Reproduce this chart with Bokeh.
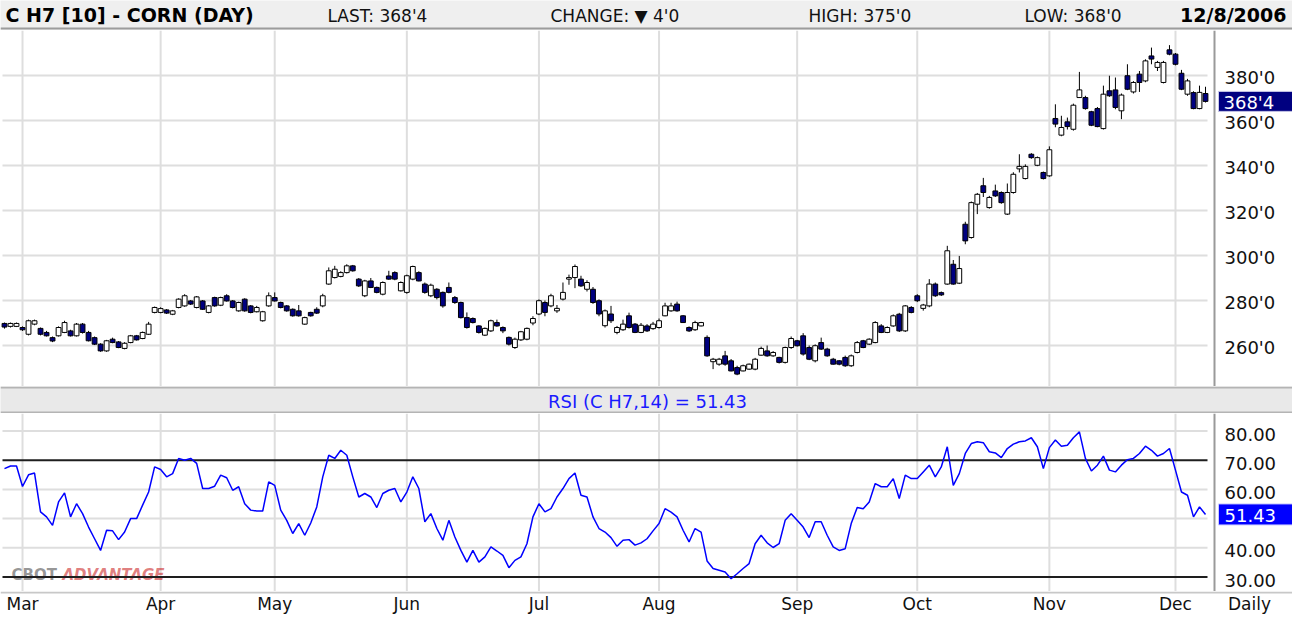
import pandas as pd
from bokeh.plotting import figure
from bokeh.layouts import column
from bokeh.models import Range1d
from bokeh.core.properties import value
from bokeh.embed import file_html
from bokeh.resources import INLINE

# ---------------------------------------------------------------- data
symbol_title = "C H7 [10] - CORN (DAY)"
rsi_name = "RSI (C H7,14)"
holidays = ["2006-04-14", "2006-05-29", "2006-07-04", "2006-09-04", "2006-11-23"]
trade_dates = pd.bdate_range("2006-02-24", "2006-12-08", freq="C", holidays=holidays)

opens = [
    269.8, 268.5, 268.5, 268.0, 265.0, 269.5, 267.6, 265.8, 263.5, 264.3,
    265.8, 266.5, 264.3, 269.5, 265.8, 263.5, 260.6, 257.6, 262.8, 261.6,
    258.7, 261.3, 264.3, 263.1, 265.0, 274.7, 274.7, 275.8, 273.9, 276.9,
    277.6, 279.8, 276.9, 279.8, 274.7, 281.3, 277.9, 282.1, 279.8, 275.4,
    280.6, 277.6, 275.0, 271.0, 277.6, 281.3, 279.1, 277.6, 276.1, 275.4,
    269.5, 274.7, 276.1, 277.6, 287.3, 290.2, 290.7, 292.4, 295.4, 289.5,
    282.1, 288.7, 285.8, 282.8, 290.9, 292.4, 284.3, 283.6, 289.5, 292.4,
    287.3, 282.1, 285.0, 283.6, 285.8, 281.3, 279.1, 272.4, 272.0, 268.7,
    264.6, 266.5, 270.2, 268.0, 263.6, 259.1, 262.5, 262.8, 270.0, 274.0,
    279.1, 277.6, 275.4, 280.6, 289.5, 290.2, 289.5, 285.0, 285.0, 279.9,
    268.8, 274.0, 265.8, 267.0, 273.2, 269.5, 265.8, 268.7, 267.5, 268.0,
    273.2, 275.4, 278.4, 273.2, 268.0, 267.0, 268.7, 263.6, 252.8, 251.7,
    255.4, 253.2, 250.2, 248.7, 249.5, 249.5, 255.7, 257.6, 255.4, 254.7,
    252.5, 259.1, 262.1, 264.3, 259.1, 253.2, 261.3, 258.4, 253.9, 253.2,
    254.7, 251.0, 256.9, 262.1, 260.6, 261.3, 268.7, 265.8, 268.7, 273.9,
    266.5, 276.9, 282.1, 276.5, 277.6, 287.3, 283.5, 287.3, 296.1, 287.7,
    313.9, 308.0, 322.8, 331.0, 321.3, 328.7, 328.0, 318.4, 328.0, 338.5,
    334.2, 345.0, 340.1, 336.9, 335.4, 360.9, 353.5, 359.4, 356.1, 370.2,
    370.2, 363.9, 365.3, 356.4, 373.2, 373.6, 364.3, 379.9, 372.7, 380.6,
    377.6, 388.7, 383.6, 376.9, 391.4, 389.5, 381.0, 371.7, 372.4, 365.3,
    372.0]
highs = [
    270.2, 270.2, 270.2, 268.5, 271.5, 271.5, 268.0, 266.5, 264.0, 268.5,
    271.0, 267.0, 270.0, 270.0, 266.5, 264.0, 261.0, 262.5, 263.5, 262.0,
    261.5, 264.7, 264.7, 266.2, 270.5, 277.3, 277.0, 276.2, 275.8, 281.0,
    282.8, 280.2, 282.0, 280.2, 278.0, 281.7, 281.7, 282.8, 280.2, 279.5,
    281.0, 278.0, 277.6, 275.4, 283.6, 283.6, 279.5, 278.0, 276.5, 278.0,
    272.8, 275.0, 277.0, 283.0, 294.7, 295.4, 293.0, 296.1, 295.8, 290.0,
    289.2, 290.0, 286.2, 288.5, 293.2, 293.0, 288.5, 291.5, 295.5, 293.0,
    288.0, 287.5, 285.5, 284.0, 288.0, 282.0, 279.5, 274.7, 272.5, 269.0,
    268.0, 271.5, 271.5, 268.5, 264.0, 263.5, 266.5, 268.0, 273.0, 280.5,
    280.0, 283.0, 278.0, 288.0, 291.5, 296.0, 291.0, 289.0, 286.0, 280.5,
    276.0, 277.6, 268.7, 271.5, 274.6, 270.0, 270.0, 269.5, 270.5, 272.0,
    279.0, 279.0, 279.5, 273.5, 268.5, 271.0, 270.5, 264.5, 254.5, 254.5,
    257.6, 254.0, 251.0, 251.5, 252.0, 254.5, 259.5, 260.0, 257.5, 255.0,
    259.5, 264.0, 262.5, 265.5, 260.0, 260.5, 263.5, 259.0, 254.5, 253.5,
    255.5, 256.0, 262.0, 262.5, 263.2, 270.8, 269.5, 268.5, 273.8, 274.5,
    278.0, 277.5, 282.8, 278.5, 289.5, 288.0, 284.0, 304.3, 298.0, 299.8,
    315.0, 324.0, 327.8, 334.5, 326.5, 331.5, 328.5, 332.0, 337.0, 345.0,
    340.5, 345.5, 344.0, 337.3, 348.5, 367.2, 362.1, 361.3, 367.5, 381.6,
    371.0, 364.3, 366.0, 375.5, 379.9, 379.1, 372.0, 385.0, 377.5, 382.0,
    387.2, 392.4, 386.5, 386.5, 393.5, 390.0, 382.5, 378.5, 373.0, 375.5,
    375.0]
lows = [
    267.5, 268.0, 268.2, 266.5, 264.5, 269.0, 264.5, 264.0, 261.5, 264.0,
    265.5, 264.0, 264.0, 265.3, 261.8, 260.2, 257.2, 257.2, 261.0, 258.8,
    258.3, 261.0, 262.2, 262.8, 264.7, 274.3, 274.3, 274.0, 273.5, 276.5,
    277.2, 278.0, 276.5, 275.8, 274.3, 277.2, 277.5, 279.5, 276.5, 275.0,
    275.0, 274.3, 274.7, 270.6, 277.2, 279.5, 276.5, 275.0, 272.8, 272.8,
    269.2, 272.8, 274.0, 277.0, 287.0, 289.8, 290.3, 292.0, 292.8, 286.0,
    281.5, 285.5, 283.2, 282.3, 289.2, 289.0, 284.0, 283.0, 289.0, 288.5,
    283.0, 281.5, 280.5, 276.8, 283.2, 278.5, 272.0, 267.5, 269.8, 265.3,
    264.2, 266.0, 268.3, 265.5, 260.0, 258.5, 262.0, 262.3, 269.0, 273.5,
    273.0, 277.0, 274.5, 280.0, 287.0, 285.5, 286.0, 284.0, 278.5, 273.0,
    268.0, 270.0, 265.0, 266.5, 267.5, 265.5, 265.5, 266.0, 267.0, 267.5,
    273.0, 275.0, 275.0, 270.0, 266.0, 266.5, 268.5, 255.0, 249.5, 251.0,
    251.0, 248.5, 246.8, 248.5, 249.2, 249.0, 255.5, 255.0, 255.0, 252.0,
    252.0, 258.5, 259.5, 255.5, 253.5, 252.5, 258.0, 255.0, 251.5, 251.2,
    250.5, 250.5, 256.5, 258.8, 260.2, 261.0, 265.5, 265.5, 268.3, 266.0,
    266.0, 274.3, 279.3, 275.5, 277.0, 281.6, 282.0, 287.0, 287.0, 287.3,
    305.0, 307.5, 318.4, 326.0, 320.8, 326.0, 323.0, 318.0, 327.5, 336.9,
    333.8, 343.0, 339.7, 333.8, 335.0, 357.0, 353.0, 356.0, 355.5, 370.0,
    364.8, 357.5, 357.0, 356.0, 370.5, 365.0, 360.6, 373.5, 372.0, 372.7,
    377.0, 385.0, 382.0, 376.5, 389.0, 384.5, 373.5, 371.0, 365.0, 365.0,
    368.0]
closes = [
    268.2, 269.8, 269.8, 267.0, 271.0, 271.0, 265.0, 264.3, 262.0, 268.0,
    270.2, 264.3, 269.5, 265.8, 262.1, 260.6, 257.6, 262.1, 261.3, 259.1,
    261.0, 264.3, 262.5, 265.8, 269.5, 276.9, 276.4, 274.4, 275.4, 280.6,
    282.1, 278.4, 281.6, 276.1, 277.6, 277.6, 281.3, 279.8, 276.9, 279.1,
    275.4, 274.7, 276.9, 275.0, 282.1, 279.8, 276.9, 275.4, 273.2, 273.2,
    272.4, 273.2, 274.4, 282.1, 293.2, 293.9, 292.4, 295.4, 293.2, 286.5,
    288.7, 285.8, 283.6, 288.0, 289.5, 289.5, 288.0, 291.0, 295.1, 288.7,
    283.6, 286.8, 281.3, 277.6, 283.6, 279.1, 272.4, 268.0, 270.2, 265.8,
    267.6, 271.0, 268.7, 266.5, 260.6, 262.8, 266.1, 267.6, 272.0, 279.9,
    274.7, 282.1, 276.5, 283.6, 290.2, 295.1, 286.5, 288.0, 279.1, 274.0,
    275.4, 271.0, 268.0, 269.5, 268.0, 265.8, 269.0, 266.5, 269.5, 271.0,
    277.6, 277.6, 275.4, 270.2, 266.5, 270.2, 270.2, 255.4, 253.9, 253.9,
    251.7, 248.7, 247.3, 251.0, 251.7, 253.9, 258.7, 255.4, 256.9, 252.5,
    259.1, 263.1, 259.9, 256.2, 253.9, 259.9, 258.4, 255.4, 251.7, 251.7,
    251.0, 255.4, 261.3, 259.1, 262.8, 270.2, 265.8, 268.0, 273.2, 266.5,
    277.6, 274.7, 279.9, 278.0, 287.3, 282.1, 282.5, 302.1, 287.3, 294.2,
    306.5, 323.5, 327.2, 328.0, 325.8, 326.5, 323.5, 328.0, 336.1, 339.6,
    339.6, 343.5, 343.5, 334.2, 347.0, 358.4, 356.9, 357.3, 366.8, 373.6,
    365.3, 357.9, 357.3, 371.7, 371.0, 365.8, 371.3, 373.9, 376.9, 376.9,
    386.5, 387.3, 385.8, 385.8, 389.5, 385.0, 373.9, 377.6, 365.3, 372.5,
    368.5]
rsi = [
    67.1, 68.0, 68.0, 61.0, 65.0, 65.6, 52.3, 50.6, 47.7, 55.7,
    58.8, 50.6, 55.1, 51.7, 47.1, 43.1, 39.1, 46.0, 45.8, 42.8,
    45.4, 50.0, 50.0, 54.6, 59.1, 67.7, 66.8, 64.3, 65.4, 70.6,
    70.0, 70.6, 68.9, 60.3, 60.3, 61.1, 64.9, 64.0, 59.7, 60.9,
    55.1, 52.9, 52.6, 52.6, 62.6, 61.4, 52.9, 49.4, 44.9, 48.3,
    44.3, 48.5, 54.0, 64.3, 71.7, 70.6, 73.4, 71.7, 64.3, 57.4,
    58.6, 57.4, 53.8, 58.6, 59.7, 60.3, 55.7, 59.1, 64.3, 60.3,
    48.9, 51.7, 46.6, 42.6, 49.4, 43.7, 39.1, 35.1, 39.1, 35.1,
    36.9, 40.3, 38.9, 37.4, 33.2, 35.7, 36.9, 41.4, 50.6, 55.1,
    52.3, 53.4, 57.4, 60.3, 63.7, 65.6, 58.0, 57.4, 50.6, 46.6,
    45.4, 43.5, 40.5, 42.6, 42.8, 40.9, 41.7, 43.1, 45.8, 48.3,
    53.4, 52.2, 50.6, 46.0, 42.0, 46.6, 45.4, 35.5, 32.9, 32.3,
    31.7, 29.4, 31.1, 32.9, 34.6, 41.4, 44.3, 41.7, 40.1, 41.4,
    49.4, 51.7, 49.4, 47.1, 43.5, 48.9, 48.9, 44.3, 40.3, 39.1,
    39.7, 48.3, 53.8, 53.4, 55.7, 62.0, 60.9, 60.9, 63.7, 56.9,
    64.9, 63.7, 63.7, 66.0, 68.3, 64.3, 67.7, 74.6, 61.4, 65.4,
    72.3, 75.7, 76.3, 76.0, 72.9, 72.5, 70.9, 74.0, 75.5, 76.3,
    76.6, 77.7, 74.6, 67.1, 74.3, 76.9, 74.8, 75.1, 77.7, 79.7,
    70.6, 66.3, 68.3, 71.4, 66.6, 66.0, 68.3, 70.2, 70.6, 72.3,
    74.8, 73.4, 71.4, 72.3, 74.0, 66.6, 59.1, 58.0, 50.6, 54.0,
    51.43]

price_ticks = [260, 280, 300, 320, 340, 360, 380]
rsi_grid = [40, 50, 60, 80]
rsi_bands = [30, 70]
rsi_ticks = [80, 70, 60, 40, 30]

# ---------------------------------------------------------------- helpers
FONT = value("DejaVu Sans")
W = 1292
DX = 6.005      # page px per trading day
X0 = 12         # page x of first candle


def ix(px):                 # page x -> day index
    return (px - X0) / DX


def pp(py):                 # page y -> price
    return 380 - (py - 83) / 2.25


def rp(py):                 # page y -> rsi
    return 80 - (py - 438.5) / 2.92


def eighths(v):
    whole = int(v)
    return f"{whole}'{int(round((v - whole) * 8))}"


n = len(closes)
idx = list(range(n))
months = trade_dates.to_period("M")
month_idx = [i for i in range(1, len(trade_dates)) if months[i] != months[i - 1]]
month_labels = [trade_dates[i].strftime("%b") for i in month_idx]

xr = Range1d(ix(8), ix(8 + W))
GRID = "#dedede"
AXIS = "#9a9a9a"


def panel(h, yr, bg="white", x_range=None):
    f = figure(width=W, height=h, x_range=x_range if x_range is not None else xr, y_range=yr,
               output_backend="svg", toolbar_location=None,
               x_axis_location=None, y_axis_location=None, min_border=0,
               outline_line_color=None, background_fill_color=bg, border_fill_color=bg)
    f.grid.visible = False
    return f


# ---------------------------------------------------------------- header
hdr = panel(30, Range1d(30, 0), bg="#efefef", x_range=Range1d(0, W))
hdr.segment(x0=[0], x1=[W], y0=[28], y1=[28], line_color="#9c9c9c", line_width=2)
d = trade_dates[-1]
chg = closes[-1] - closes[-2]
arrow = "\u25bc" if chg < 0 else "\u25b2"
hdr.text(x=[5], y=[14], text=[symbol_title], text_font=FONT, text_font_style="bold",
         text_font_size="19px", text_baseline="middle", text_align="left", text_color="#000000")
hdr.text(x=[1286], y=[14], text=[f"{d.month}/{d.day}/{d.year}"], text_font=FONT,
         text_font_style="bold", text_font_size="19px", text_baseline="middle",
         text_align="right", text_color="#000000")
hdr.text(x=[327, 550, 808, 1024], y=[15] * 4,
         text=[f"LAST: {eighths(closes[-1])}", f"CHANGE: {arrow} {eighths(abs(chg))}",
               f"HIGH: {eighths(highs[-1])}", f"LOW: {eighths(lows[-1])}"],
         text_font=FONT, text_font_size="17px", text_baseline="middle", text_align="left",
         text_color="#111111")

# ---------------------------------------------------------------- price panel
pr = panel(356, Range1d(pp(394), pp(38)))
pr.segment(x0=[ix(10)] * len(price_ticks), x1=[ix(1215)] * len(price_ticks),
           y0=price_ticks, y1=price_ticks, line_color=GRID, line_width=2)
pr.segment(x0=month_idx, x1=month_idx, y0=[pp(394)] * len(month_idx),
           y1=[pp(38)] * len(month_idx), line_color=GRID, line_width=2)
pr.segment(x0=[ix(1222)], x1=[ix(1222)], y0=[pp(394)], y1=[pp(38)], line_color=AXIS, line_width=2)

pr.segment(x0=idx, x1=idx, y0=highs, y1=lows, line_color="#000000", line_width=1)
tops = [max(o, c) for o, c in zip(opens, closes)]
bots = [min(o, c) for o, c in zip(opens, closes)]
fills = ["#ffffff" if c >= o else "#000080" for o, c in zip(opens, closes)]
pr.vbar(x=idx, width=0.8, top=tops, bottom=bots, fill_color=fills,
        line_color="#000000", line_width=1)

pr.text(x=[ix(1232)] * len(price_ticks), y=price_ticks, text=[f"{t}'0" for t in price_ticks],
        text_font=FONT, text_font_size="18px", text_baseline="middle", text_align="left",
        y_offset=2, text_color="#111111")
pr.rect(x=[ix(1266)], y=[closes[-1]], width=80, height=20, width_units="screen",
        height_units="screen", fill_color="#000080", line_color="#c8c8e8", line_width=1)
pr.text(x=[ix(1231)], y=[closes[-1]], text=[eighths(closes[-1])], text_font=FONT,
        text_font_size="18px", text_baseline="middle", text_align="left", y_offset=1,
        text_color="#ffffff")

# ---------------------------------------------------------------- rsi title bar
rt = panel(27, Range1d(27, 0), bg="#e9e9e9", x_range=Range1d(0, W))
rt.segment(x0=[0, 0], x1=[W, W], y0=[1, 26], y1=[1, 26], line_color="#b4b4b4", line_width=2)
rt.text(x=[647], y=[14.5], text=[f"{rsi_name} = {rsi[-1]:.2f}"], text_font=FONT,
        text_font_size="18px", text_baseline="middle", text_align="center", text_color="#1a1aff")

# ---------------------------------------------------------------- rsi panel
rs = panel(178, Range1d(rp(599), rp(421)))
rs.segment(x0=month_idx, x1=month_idx, y0=[rp(599)] * len(month_idx),
           y1=[rp(421)] * len(month_idx), line_color=GRID, line_width=2)
rs.segment(x0=[ix(10)] * len(rsi_grid), x1=[ix(1215)] * len(rsi_grid),
           y0=rsi_grid, y1=rsi_grid, line_color=GRID, line_width=2)
rs.text(x=[ix(19)], y=[rp(582)], text=["CBOT"], text_font=FONT, text_font_style="bold",
        text_font_size="15px", text_baseline="middle", text_align="left",
        text_color="#505050", text_alpha=0.6)
rs.text(x=[ix(70)], y=[rp(582)], text=["ADVANTAGE"], text_font=FONT,
        text_font_style="bold italic", text_font_size="15px", text_baseline="middle",
        text_align="left", text_color="#cc2a2a", text_alpha=0.6)
rs.segment(x0=[ix(10)] * 2, x1=[ix(1215)] * 2, y0=rsi_bands, y1=rsi_bands,
           line_color="#1e1e1e", line_width=2)
rs.segment(x0=[ix(1222)], x1=[ix(1222)], y0=[rp(601)], y1=[rp(421)], line_color=AXIS, line_width=2)
rs.line(x=idx, y=rsi, line_color="#0000ff", line_width=1.5)
rs.text(x=[ix(1232)] * len(rsi_ticks), y=rsi_ticks, text=[f"{t:.2f}" for t in rsi_ticks],
        text_font=FONT, text_font_size="18px", text_baseline="middle", text_align="left",
        y_offset=3, text_color="#111111")
rs.rect(x=[ix(1266)], y=[rsi[-1]], width=80, height=21, width_units="screen",
        height_units="screen", fill_color="#0000ff", line_color="#c8c8ff", line_width=1)
rs.text(x=[ix(1232)], y=[rsi[-1]], text=[f"{rsi[-1]:.2f}"], text_font=FONT,
        text_font_size="18px", text_baseline="middle", text_align="left", y_offset=1,
        text_color="#ffffff")

# ---------------------------------------------------------------- bottom date axis
bt = panel(25, Range1d(25, 0))
bt.segment(x0=[ix(8)], x1=[ix(8 + W)], y0=[1], y1=[1], line_color="#c8c8c8", line_width=2)
bt.text(x=month_idx, y=[12] * len(month_idx), text=month_labels, text_font=FONT,
        text_font_size="17px", text_baseline="middle", text_align="center", text_color="#111111")
bt.text(x=[ix(1257)], y=[12], text=["Daily"], text_font=FONT, text_font_size="17px",
        text_baseline="middle", text_align="center", text_color="#111111")

layout = column(hdr, pr, rt, rs, bt, spacing=0)
open("out.html", "w").write(file_html(layout, INLINE))
